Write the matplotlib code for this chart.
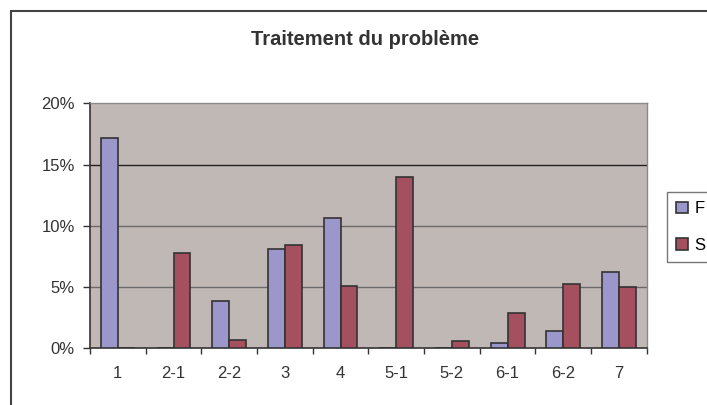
import matplotlib
matplotlib.use("Agg")
import matplotlib.pyplot as plt
import numpy as np
from matplotlib.patches import Rectangle
from matplotlib.ticker import FuncFormatter, FixedLocator

categories = ["1", "2-1", "2-2", "3", "4", "5-1", "5-2", "6-1", "6-2", "7"]
F = [17.2, 0.0, 3.9, 8.1, 10.65, 0.0, 0.0, 0.45, 1.45, 6.25]
S = [0.0, 7.8, 0.7, 8.4, 5.1, 14.0, 0.6, 2.85, 5.25, 5.0]
series_names = ["F", "S"]
title = "Traitement du problème"

plt.rcParams['font.family'] = ['Liberation Sans', 'DejaVu Sans']

fig = plt.figure(figsize=(7.07, 4.05), dpi=100)
ax = fig.add_axes([90/707, 1-348.3/405, (646.7-90)/707, (348.3-103.3)/405])
ax.set_facecolor('#C0B8B5')

x = np.arange(len(categories))
w = 0.305
edge = '#333333'
ax.bar(x - w/2, F, w, color='#9B97CB', edgecolor=edge, linewidth=1.2, label=series_names[0], zorder=3)
ax.bar(x + w/2, S, w, color='#A4505F', edgecolor=edge, linewidth=1.2, label=series_names[1], zorder=3)

ax.set_xlim(-0.5, len(categories) - 0.5)
ax.set_ylim(0, 20)
ax.set_yticks([0, 5, 10, 15, 20])
ax.yaxis.set_major_formatter(FuncFormatter(lambda v, p: f"{int(v)}%"))
for yv, c in [(5, '#6a6a6a'), (10, '#6a6a6a'), (15, '#222222')]:
    ax.axhline(yv, color=c, linewidth=1.0, zorder=1)

ax.xaxis.set_major_locator(FixedLocator(np.arange(-0.5, len(categories), 1.0)))
ax.xaxis.set_major_formatter(FuncFormatter(lambda v, p: ""))
ax.xaxis.set_minor_locator(FixedLocator(x))
ax.set_xticklabels(categories, minor=True)
ax.tick_params(axis='x', which='major', direction='out', length=4.5, width=1, color='#333333')
ax.tick_params(axis='x', which='minor', length=0, pad=12.5, labelsize=12, labelcolor='#333333')
ax.tick_params(axis='y', direction='out', length=5, width=1, color='#333333', labelsize=12, labelcolor='#333333', pad=6)

for s in ['left', 'bottom']:
    ax.spines[s].set_color('#333333')
    ax.spines[s].set_linewidth(1.2)
for s in ['top', 'right']:
    ax.spines[s].set_color('#8a8a8a')
    ax.spines[s].set_linewidth(1.0)

fig.text(365/707, 1-45/405, title, ha='center', va='baseline', fontsize=14.5,
         fontweight='bold', color='#333333')

leg = fig.legend(loc='upper left', bbox_to_anchor=(667/707, 1-192/405),
                 frameon=True, fancybox=False, edgecolor='#555555',
                 handlelength=0.7, handleheight=0.7, handletextpad=0.4,
                 labelspacing=1.3, fontsize=12, borderpad=0.55, borderaxespad=0)
leg.get_frame().set_linewidth(1.0)

fig.add_artist(Rectangle((11/707, -0.1), 2, 1.1 - 11/405, transform=fig.transFigure,
                         fill=False, edgecolor='#444444', linewidth=1.5))

fig.savefig("out.png", dpi=100)
